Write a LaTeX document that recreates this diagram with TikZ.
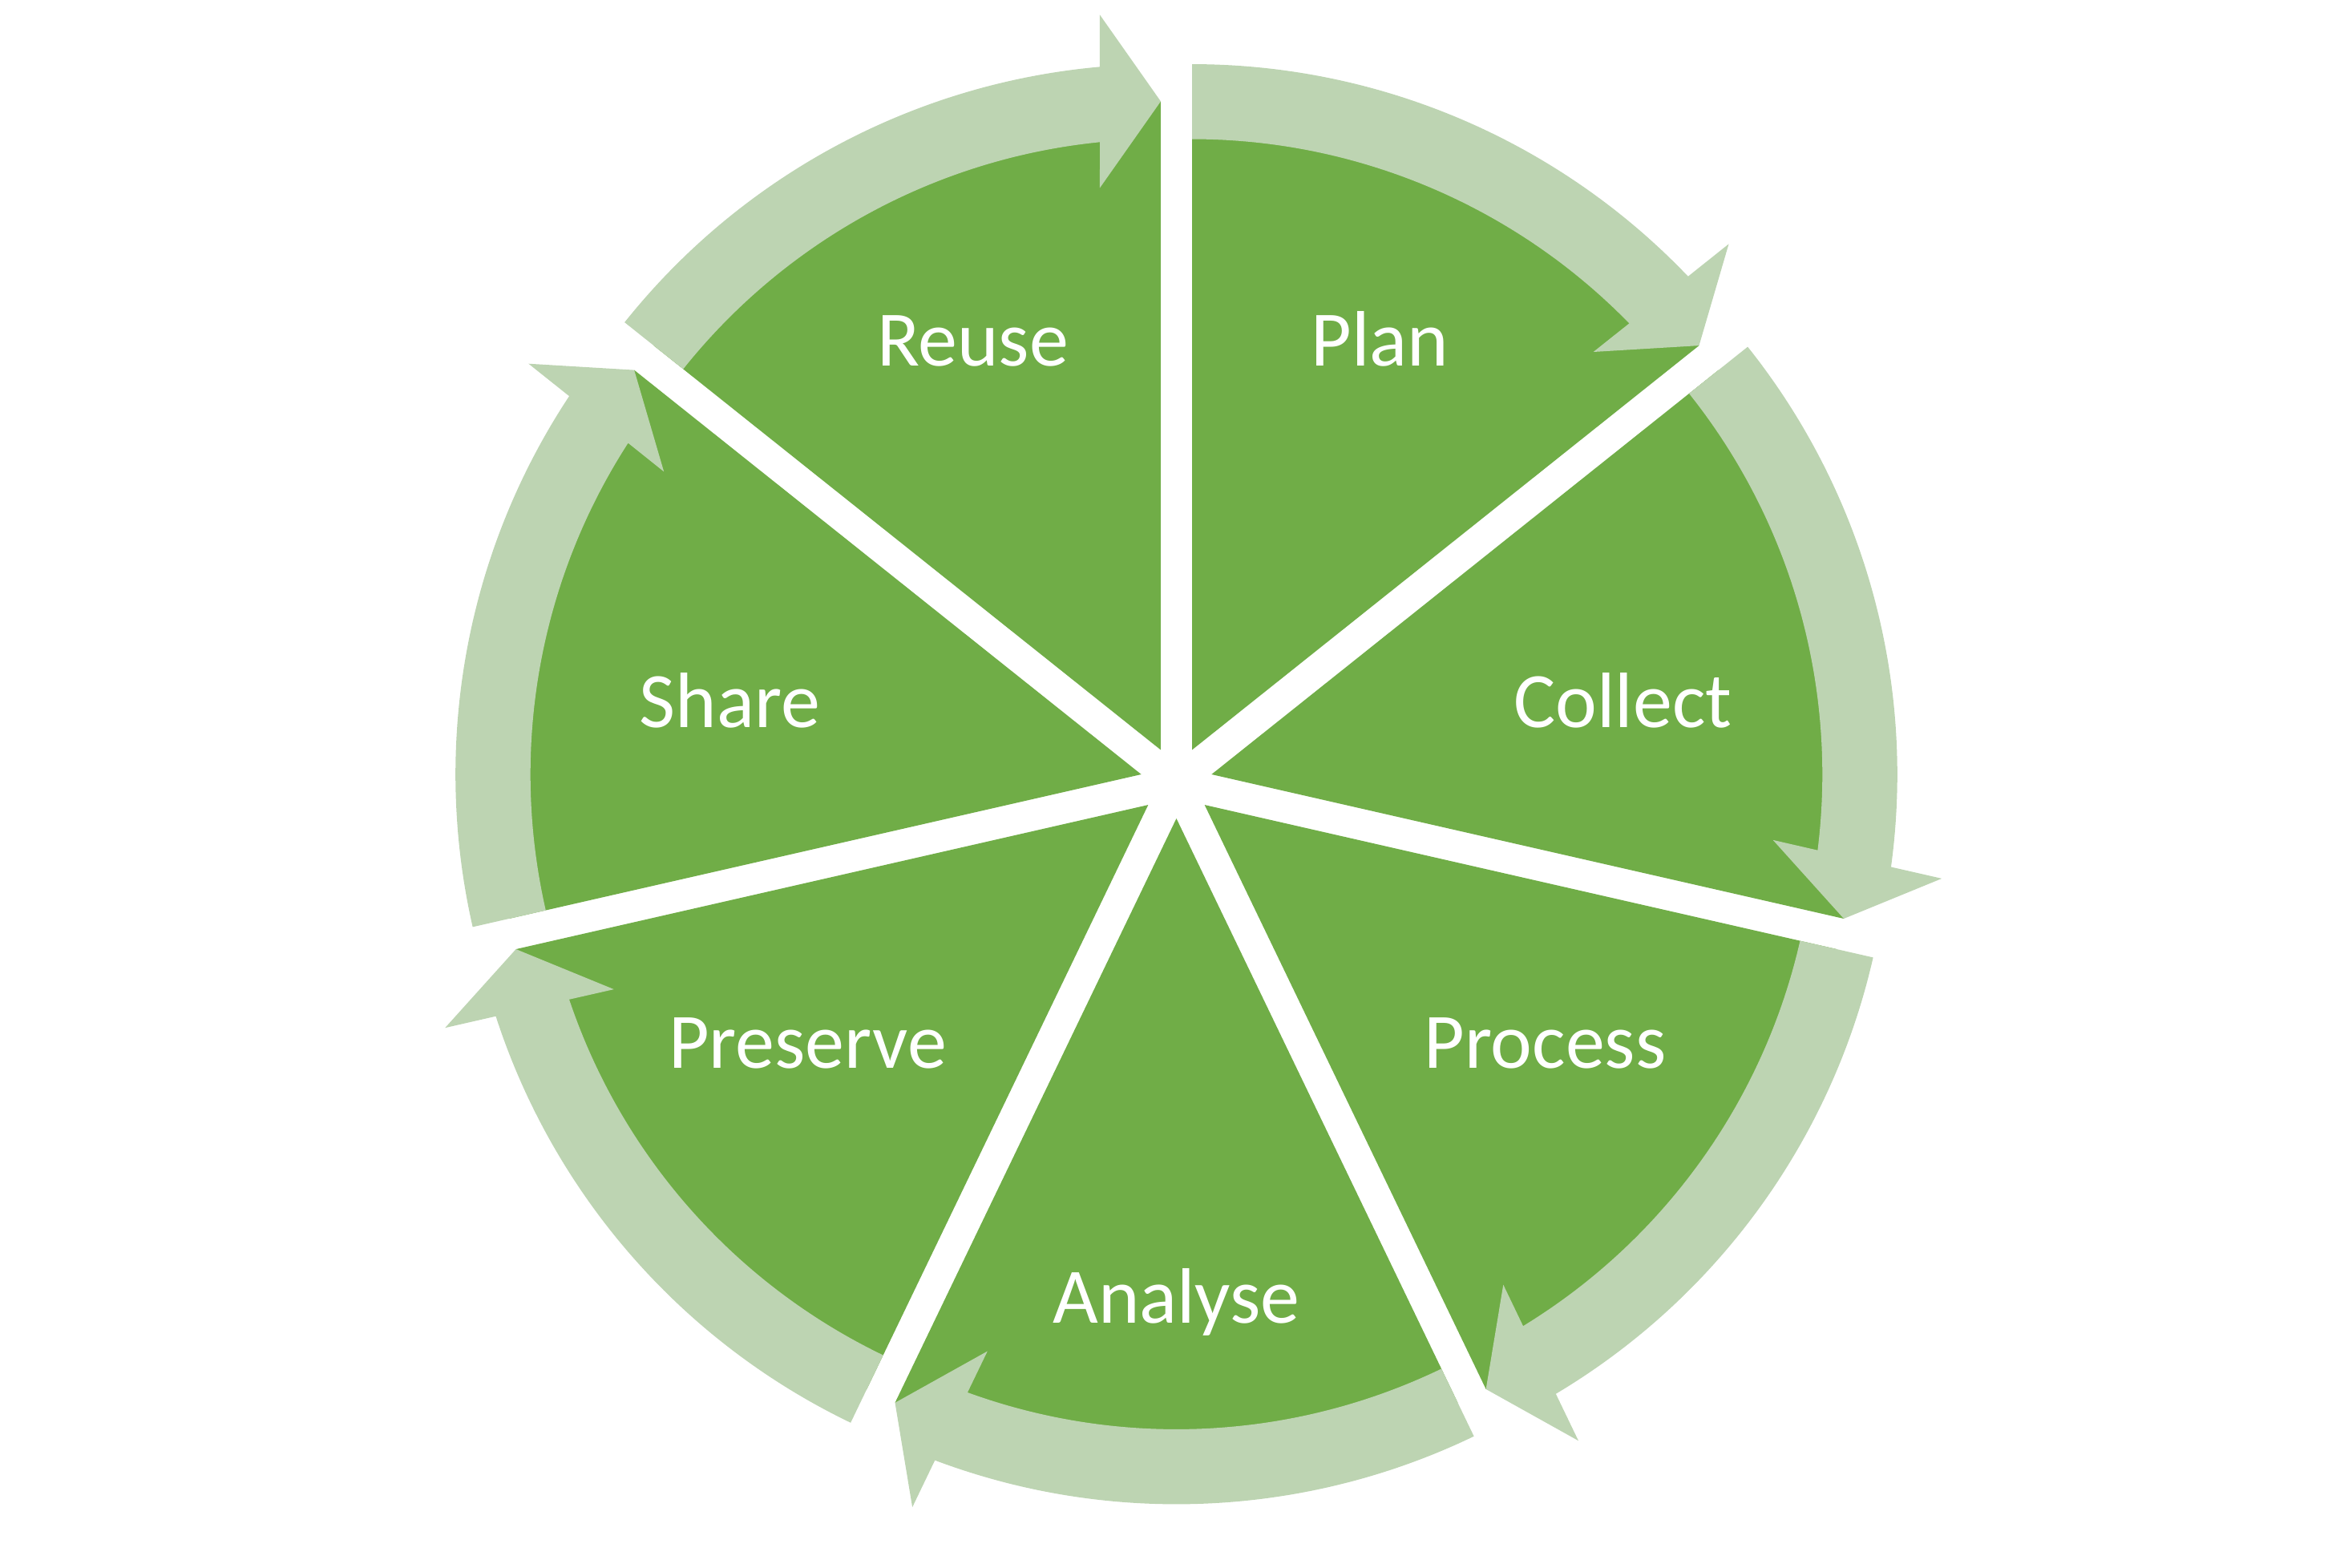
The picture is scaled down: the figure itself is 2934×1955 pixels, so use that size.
\documentclass[tikz,border=0pt]{standalone}
\usepackage{fontspec}
\setmainfont{Carlito}
\definecolor{dark}{RGB}{112,173,71}
\definecolor{light}{RGB}{189,212,178}
\begin{document}
\begin{tikzpicture}[x=1pt,y=1pt,
  wedge/.style={fill=dark},
  band/.style={fill=light},
  lbl/.style={text=white,font=\fontsize{98}{118}\selectfont,anchor=base,inner sep=0pt}]
\useasboundingbox (-1467.5,-979) rectangle (1466.5,976);
\foreach \k in {0,...,6}{
  \pgfmathsetmacro{\e}{90-51.428571*(\k+1)}
  \pgfmathsetmacro{\b}{\e+25.714286}
  \begin{scope}[shift={(\b:45pt)},rotate=\e]
    \fill[wedge] (0,0) -- (0:809pt) arc[start angle=0,end angle=51.428571,radius=809pt] -- cycle;
  \end{scope}
}
\foreach \k in {0,...,6}{
  \pgfmathsetmacro{\e}{90-51.428571*(\k+1)}
  \pgfmathsetmacro{\b}{\e+25.714286}
  \begin{scope}[shift={(\b:45pt)},rotate=\e]
    \fill[band] (51.428571:855.5pt) arc[start angle=51.428571,end angle=5.097,radius=855.5pt]
      -- (917pt,76pt) -- (809pt,0pt) -- (701pt,76pt) -- (5.72:762pt)
      arc[start angle=5.72,end angle=51.428571,radius=762pt] -- cycle;
  \end{scope}
}
\node[lbl] (plan) at (254,519) {Plan};
\node[lbl] (reuse) at (-254,519) {Reuse};
\node[lbl] (collect) at (557,68.5) {Collect};
\node[lbl] (share) at (-557,68.5) {Share};
\node[lbl] (process) at (460,-356) {Process};
\node[lbl] (preserve) at (-460,-356) {Preserve};
\node[lbl] (analyse) at (0,-674.4) {Analyse};
\end{tikzpicture}
\end{document}
